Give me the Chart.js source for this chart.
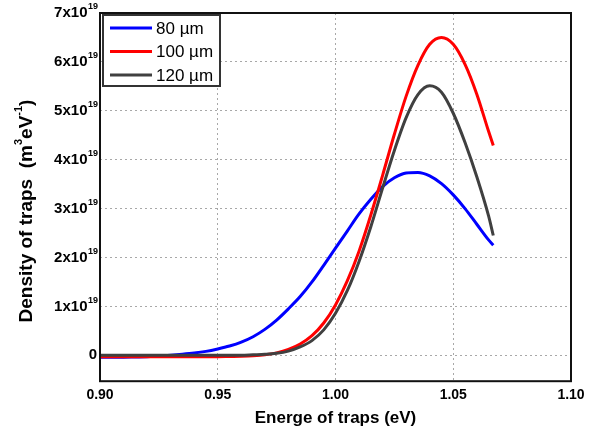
<!DOCTYPE html>
<html>
<head>
<meta charset="utf-8">
<script src="https://cdn.jsdelivr.net/npm/chart.js@4.4.0/dist/chart.umd.min.js"></script>
<style>
  html, body { margin: 0; padding: 0; background: #fff; }
  #wrap { width: 599px; height: 430px; }
</style>
</head>
<body>
<div id="wrap"><canvas id="traps"></canvas></div>
<script>
// values, density in units of 1e19 m^-3 eV^-1
const energies = [0.900, 0.905, 0.910, 0.915, 0.920, 0.925, 0.930, 0.935, 0.940, 0.945,
  0.950, 0.955, 0.960, 0.965, 0.970, 0.975, 0.980, 0.985, 0.990, 0.995,
  1.000, 1.005, 1.010, 1.015, 1.020, 1.025, 1.030, 1.035, 1.040, 1.045,
  1.050, 1.055, 1.060, 1.065, 1.067];
const dens80 = [-0.04, -0.04, -0.04, -0.035, -0.03, -0.015, 0.0, 0.02, 0.045, 0.08,
  0.13, 0.19, 0.27, 0.38, 0.53, 0.72, 0.95, 1.20, 1.50, 1.84,
  2.19, 2.54, 2.89, 3.19, 3.45, 3.63, 3.73, 3.74, 3.67, 3.51,
  3.28, 3.00, 2.68, 2.36, 2.25];
const dens100 = [-0.03, -0.03, -0.03, -0.03, -0.03, -0.03, -0.03, -0.03, -0.03, -0.03,
  -0.03, -0.025, -0.02, -0.01, 0.01, 0.05, 0.12, 0.23, 0.40, 0.66,
  1.03, 1.52, 2.13, 2.87, 3.68, 4.52, 5.30, 5.93, 6.36, 6.50,
  6.36, 5.95, 5.34, 4.58, 4.29];
const dens120 = [0, 0, 0, 0, 0, 0, 0, 0, 0, 0,
  0, 0, 0.0, 0.01, 0.02, 0.04, 0.085, 0.17, 0.30, 0.52,
  0.86, 1.32, 1.92, 2.63, 3.42, 4.19, 4.86, 5.33, 5.51, 5.38,
  4.95, 4.35, 3.65, 2.85, 2.45];
const seriesNames = ['80 µm', '100 µm', '120 µm'];
const seriesColors = ['#0000ff', '#ff0000', '#404040'];
const yTicks = [0, 1, 2, 3, 4, 5, 6, 7];
const xTicks = [0.90, 0.95, 1.00, 1.05, 1.10];

function points(vals) {
  return energies.map((e, i) => ({ x: e, y: vals[i] }));
}

const extras = {
  id: 'extras',
  afterDraw(chart) {
    const ctx = chart.ctx;
    const a = chart.chartArea;
    const ys = chart.scales.y;
    ctx.save();

    // frame round the plot
    ctx.strokeStyle = '#111';
    ctx.lineWidth = 2;
    ctx.strokeRect(a.left, a.top, a.right - a.left, a.bottom - a.top);

    // y tick labels with superscript exponent
    ctx.fillStyle = '#000';
    ctx.textBaseline = 'middle';
    yTicks.forEach(v => {
      const py = ys.getPixelForValue(v);
      if (v === 0) {
        ctx.font = 'bold 15px "Liberation Sans", Arial';
        ctx.textAlign = 'right';
        ctx.fillText('0', 97, py);
        return;
      }
      ctx.font = 'bold 9px "Liberation Sans", Arial';
      ctx.textAlign = 'right';
      const supW = ctx.measureText('19').width;
      ctx.fillText('19', 98, py - 6);
      ctx.font = 'bold 15px "Liberation Sans", Arial';
      ctx.fillText(v + 'x10', 98 - supW - 0.5, py);
    });

    // y axis title, rotated
    ctx.translate(27, 211);
    ctx.rotate(-Math.PI / 2);
    const parts = [
      ['Density of traps  (m', false], ['3', true], ['eV', false], ['-1', true], [')', false]
    ];
    const big = 'bold 19px "Liberation Sans", Arial';
    const small = 'bold 11px "Liberation Sans", Arial';
    let total = 0;
    parts.forEach(p => { ctx.font = p[1] ? small : big; total += ctx.measureText(p[0]).width; });
    let x = -total / 2;
    ctx.textAlign = 'left';
    parts.forEach(p => {
      ctx.font = p[1] ? small : big;
      ctx.fillText(p[0], x, p[1] ? -8 : 0);
      x += ctx.measureText(p[0]).width;
    });
    ctx.restore();

    // legend box inside the plot
    ctx.save();
    const bx = a.left + 3, by = a.top + 2, bw = 117, bh = 71;
    ctx.fillStyle = '#fff';
    ctx.fillRect(bx, by, bw, bh);
    ctx.strokeStyle = '#333';
    ctx.lineWidth = 2;
    ctx.strokeRect(bx, by, bw, bh);
    ctx.font = '17px "Liberation Sans", Arial';
    ctx.textAlign = 'left';
    ctx.textBaseline = 'middle';
    chart.data.datasets.forEach((ds, i) => {
      const ly = by + 13 + i * 23.5;
      ctx.strokeStyle = ds.borderColor;
      ctx.lineWidth = 3;
      ctx.beginPath();
      ctx.moveTo(bx + 7, ly);
      ctx.lineTo(bx + 49, ly);
      ctx.stroke();
      ctx.fillStyle = '#000';
      ctx.fillText(ds.label, bx + 53, ly + 1);
    });
    ctx.restore();
  }
};

new Chart('traps', {
  type: 'line',
  data: {
    datasets: [
      { label: seriesNames[0], data: points(dens80), borderColor: seriesColors[0], order: 3 },
      { label: seriesNames[1], data: points(dens100), borderColor: seriesColors[1], order: 2 },
      { label: seriesNames[2], data: points(dens120), borderColor: seriesColors[2], order: 1 }
    ].map(d => Object.assign(d, { borderWidth: 3, pointRadius: 0, fill: false, cubicInterpolationMode: 'monotone' }))
  },
  options: {
    responsive: true,
    maintainAspectRatio: false,
    animation: false,
    layout: { padding: { left: 100, right: 28, top: 13, bottom: 0 } },
    plugins: { legend: { display: false }, tooltip: { enabled: false } },
    scales: {
      x: {
        type: 'linear',
        min: 0.90,
        max: 1.10,
        afterBuildTicks: s => { s.ticks = xTicks.map(v => ({ value: v })); },
        grid: { color: '#a8a8a8', borderDash: [2, 3], drawTicks: false },
        border: { display: false, dash: [2, 3] },
        ticks: {
          padding: 6,
          color: '#000',
          font: { family: '"Liberation Sans", Arial', size: 14, weight: 'bold' },
          callback: v => v.toFixed(2)
        },
        title: {
          display: true,
          text: 'Energe of traps (eV)',
          color: '#000',
          padding: { top: 0, bottom: 3 },
          font: { family: '"Liberation Sans", Arial', size: 17, weight: 'bold', lineHeight: 1 }
        }
      },
      y: {
        min: -0.53,
        max: 7,
        afterBuildTicks: s => { s.ticks = yTicks.map(v => ({ value: v })); },
        grid: { color: '#a8a8a8', borderDash: [2, 3], drawTicks: false },
        border: { display: false, dash: [2, 3] },
        ticks: { display: false }
      }
    }
  },
  plugins: [extras]
});
</script>
</body>
</html>
